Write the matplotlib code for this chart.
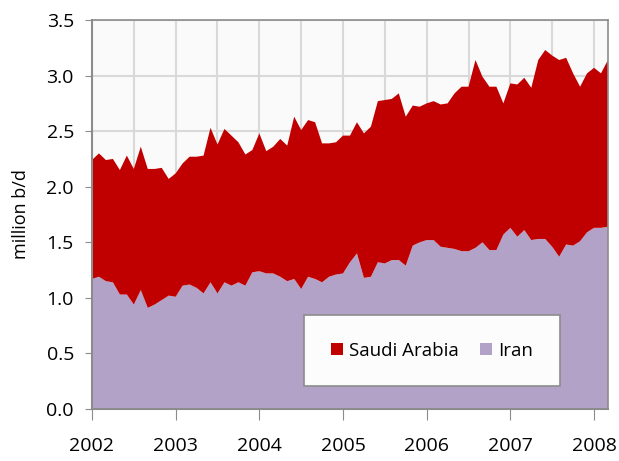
import matplotlib.pyplot as plt
import numpy as np

# monthly, Jan 2002 .. Mar 2008 (million b/d)
start_year = 2002
iran = [1.17, 1.19, 1.15, 1.14, 1.03, 1.03, 0.94, 1.07, 0.91, 0.94, 0.98, 1.02,
        1.01, 1.11, 1.12, 1.09, 1.04, 1.14, 1.04, 1.14, 1.11, 1.14, 1.11, 1.23,
        1.24, 1.22, 1.22, 1.19, 1.15, 1.17, 1.08, 1.19, 1.17, 1.14, 1.19, 1.21,
        1.22, 1.32, 1.40, 1.18, 1.19, 1.32, 1.31, 1.34, 1.34, 1.29, 1.47, 1.50,
        1.52, 1.52, 1.46, 1.45, 1.44, 1.42, 1.42, 1.45, 1.50, 1.43, 1.43, 1.57,
        1.63, 1.55, 1.61, 1.52, 1.53, 1.53, 1.46, 1.37, 1.48, 1.47, 1.51, 1.59,
        1.63, 1.63, 1.64]
saudi = [1.07, 1.11, 1.09, 1.11, 1.12, 1.25, 1.22, 1.29, 1.25, 1.22, 1.19, 1.05,
         1.11, 1.10, 1.15, 1.18, 1.24, 1.39, 1.34, 1.38, 1.35, 1.26, 1.18, 1.10,
         1.24, 1.10, 1.14, 1.24, 1.22, 1.46, 1.43, 1.41, 1.41, 1.25, 1.20, 1.19,
         1.24, 1.14, 1.18, 1.30, 1.35, 1.45, 1.47, 1.45, 1.50, 1.34, 1.26, 1.22,
         1.23, 1.25, 1.28, 1.30, 1.40, 1.48, 1.48, 1.69, 1.49, 1.47, 1.47, 1.18,
         1.30, 1.37, 1.37, 1.37, 1.61, 1.70, 1.72, 1.77, 1.68, 1.55, 1.39, 1.43,
         1.44, 1.39, 1.50]
years = [2002, 2003, 2004, 2005, 2006, 2007, 2008]

red = "#C00000"
lav = "#B3A2C7"

x = start_year + np.arange(len(iran)) / 12.0

fig = plt.figure(figsize=(6.19, 4.61), dpi=100)
ax = fig.add_axes([0.1486, 0.1128, 0.8336, 0.8438])
ax.set_facecolor("#FAFAFA")

ax.stackplot(x, iran, saudi, colors=[lav, red], labels=["Iran", "Saudi Arabia"],
             linewidth=0, zorder=2)

ax.set_xlim(x[0], x[-1])
ax.set_ylim(0, 3.5)
ax.set_yticks(np.arange(0, 3.51, 0.5))
ax.set_yticklabels(["%.1f" % v for v in np.arange(0, 3.51, 0.5)])
ax.set_xticks(years)
ax.set_xticks(np.arange(2002.5, 2008.2, 1.0), minor=True)

ax.grid(True, which="both", color="#D9D9D9", linewidth=1.5, zorder=1)
ax.set_axisbelow(True)

for s in ax.spines.values():
    s.set_color("#8C8C8C")
    s.set_linewidth(1.2)
ax.spines["left"].set_linewidth(1.5)
ax.spines["bottom"].set_linewidth(1.5)

ax.tick_params(axis="y", which="major", direction="out", length=5, color="#8C8C8C",
               labelsize=14, pad=8)
ax.tick_params(axis="x", which="major", direction="out", length=8, color="#8C8C8C",
               labelsize=14, pad=12)
ax.tick_params(axis="x", which="minor", length=0)

for lab in ax.get_xticklabels() + ax.get_yticklabels():
    lab.set_family("Open Sans")

ax.set_ylabel("million b/d", fontsize=13, family="Open Sans", labelpad=12)

h, l = ax.get_legend_handles_labels()
leg = ax.legend(h[::-1], l[::-1], loc="center", bbox_to_anchor=(0.659, 0.150),
                ncol=2, frameon=True, fancybox=False,
                prop={"family": "Open Sans", "size": 13.5}, handlelength=0.65, handleheight=0.65,
                handletextpad=0.35, columnspacing=1.1, borderpad=1.4)
leg.get_frame().set_edgecolor("#8C8C8C")
leg.get_frame().set_facecolor("#FCFCFC")
leg.get_frame().set_linewidth(1.2)
leg.get_frame().set_alpha(1)

fig.savefig("out.png", dpi=100)
